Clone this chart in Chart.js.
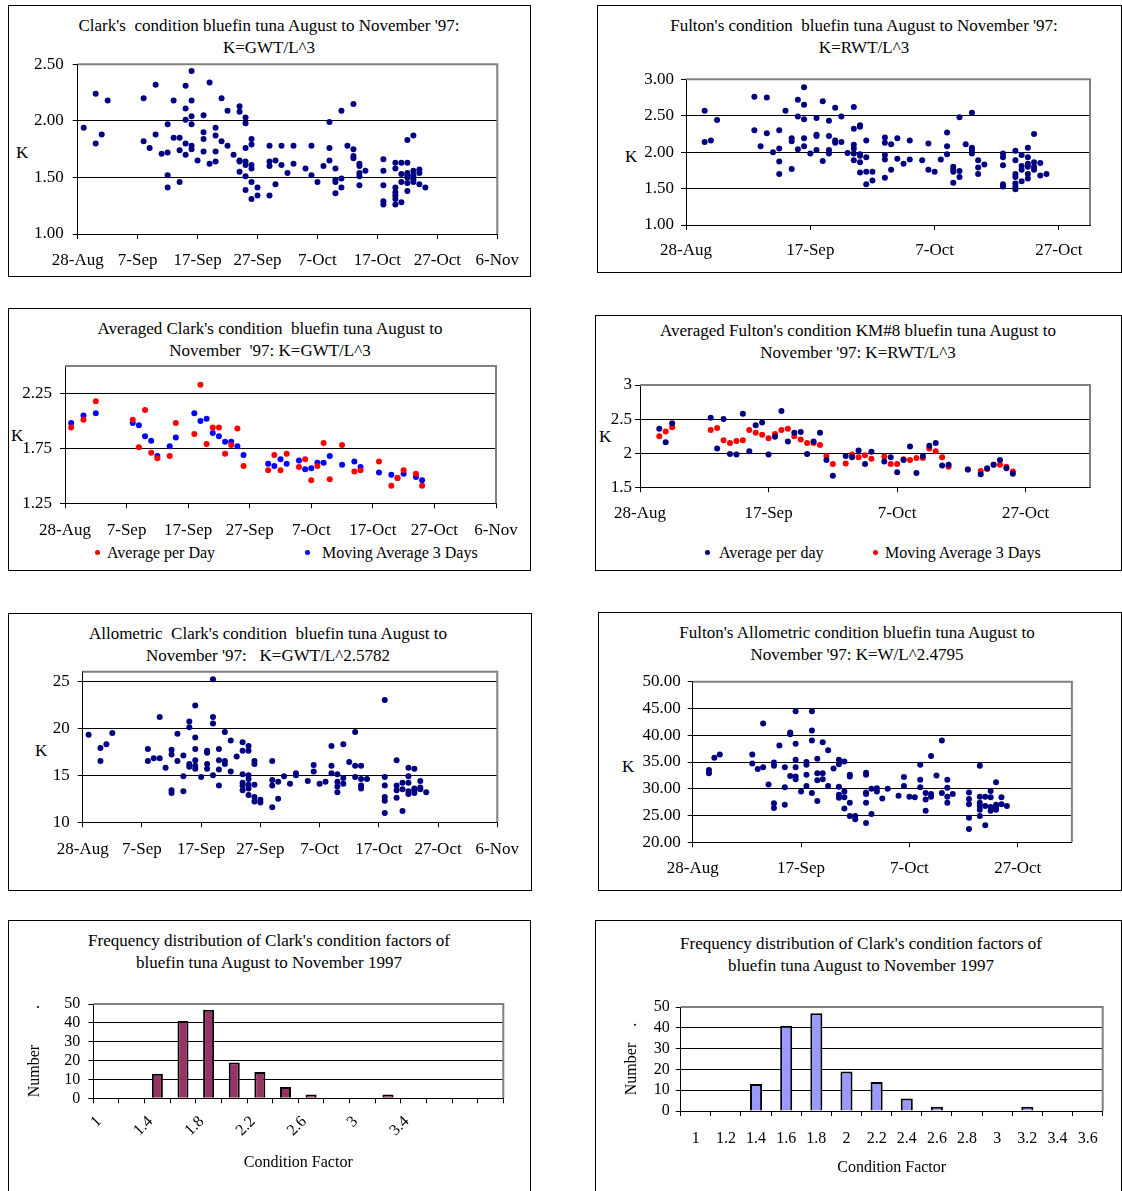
<!DOCTYPE html>
<html>
<head>
<meta charset="utf-8">
<script src="https://cdn.jsdelivr.net/npm/chart.js@4.4.3/dist/chart.umd.min.js"></script>
<style>
  body { margin: 0; background: #fff; }
  #page { position: relative; width: 1122px; height: 1191px; overflow: hidden;
          font-family: 'Liberation Serif', 'Times New Roman', serif; color: #000; }
  .box { position: absolute; border: 1px solid #000; box-sizing: border-box; pointer-events: none; z-index: 2; }
  canvas { position: absolute; }
  .t { position: absolute; width: 600px; text-align: center; font-size: 17px; line-height: 22px; white-space: pre; }
  .k { position: absolute; font-size: 17px; line-height: 20px; }
  .lg { position: absolute; font-size: 16px; line-height: 20px; white-space: pre; }
  .dot { position: absolute; width: 5px; height: 5px; border-radius: 50%; }
</style>
</head>
<body>
<div id="page">
  <div class="t" style="left:-31px;top:15px">Clark's  condition bluefin tuna August to November '97:
K=GWT/L^3</div>
  <div class="t" style="left:564px;top:15px">Fulton's condition  bluefin tuna August to November '97:
K=RWT/L^3</div>
  <div class="t" style="left:-30px;top:318px">Averaged Clark's condition  bluefin tuna August to
November  '97: K=GWT/L^3</div>
  <div class="t" style="left:558px;top:320px">Averaged Fulton's condition KM#8 bluefin tuna August to
November '97: K=RWT/L^3</div>
  <div class="t" style="left:-32px;top:623px">Allometric  Clark's condition  bluefin tuna August to
November '97:   K=GWT/L^2.5782</div>
  <div class="t" style="left:557px;top:622px">Fulton's Allometric condition bluefin tuna August to
November '97: K=W/L^2.4795</div>
  <div class="t" style="left:-31px;top:930px">Frequency distribution of Clark's condition factors of
bluefin tuna August to November 1997</div>
  <div class="t" style="left:561px;top:933px">Frequency distribution of Clark's condition factors of
bluefin tuna August to November 1997</div>

  <div class="k" style="left:16px;top:143px">K</div>
  <div class="k" style="left:625px;top:147px">K</div>
  <div class="k" style="left:11px;top:426px">K</div>
  <div class="k" style="left:599px;top:427px">K</div>
  <div class="k" style="left:35px;top:741px">K</div>
  <div class="k" style="left:622px;top:757px">K</div>

  <div class="dot" style="left:95px;top:550px;background:#ff0000"></div>
  <div class="lg" style="left:107px;top:543px">Average per Day</div>
  <div class="dot" style="left:305px;top:550px;background:#0000ff"></div>
  <div class="lg" style="left:322px;top:543px">Moving Average 3 Days</div>
  <div class="dot" style="left:705px;top:550px;background:#000080"></div>
  <div class="lg" style="left:719px;top:543px">Average per day</div>
  <div class="dot" style="left:873px;top:550px;background:#ff0000"></div>
  <div class="lg" style="left:885px;top:543px">Moving Average 3 Days</div>
</div>
<script>
// days counted from 28-Aug-97
const dayTicks10 = [0, 10, 20, 30, 40, 50, 60, 70];
const dayLabels10 = ['28-Aug', '7-Sep', '17-Sep', '27-Sep', '7-Oct', '17-Oct', '27-Oct', '6-Nov'];
const dayTicks20 = [0, 20, 40, 60];
const dayLabels20 = ['28-Aug', '17-Sep', '7-Oct', '27-Oct'];

// Clark's condition K=GWT/L^3, [day, K]
const clarkK = [
  [1,1.94],[3,2.24],[3,1.80],[4,1.88],[5,2.18],
  [11,2.20],[11,1.82],[12,1.76],[13,2.32],[13,1.88],[14,1.71],
  [15,1.97],[15,1.72],[15,1.52],[15,1.41],[16,2.18],[16,1.85],[17,1.85],[17,1.74],[17,1.46],
  [18,2.31],[18,2.11],[18,2.01],[18,1.80],[18,1.70],
  [19,2.44],[19,2.18],[19,2.04],[19,1.97],[19,1.78],[19,1.75],
  [20,1.65],[21,2.05],[21,1.90],[21,1.84],[21,1.73],
  [22,2.34],[22,1.62],[23,1.94],[23,1.87],[23,1.73],[23,1.64],
  [24,2.20],[24,1.82],[25,2.09],[25,1.78],[26,1.70],
  [27,2.13],[27,2.08],[27,1.65],[27,1.64],[27,1.55],
  [28,2.03],[28,1.98],[28,1.76],[28,1.64],[28,1.61],[28,1.51],[28,1.39],
  [29,1.84],[29,1.79],[29,1.61],[29,1.58],[29,1.46],[29,1.31],[30,1.41],[30,1.34],
  [32,1.78],[32,1.64],[32,1.60],[32,1.34],[33,1.65],[33,1.44],
  [34,1.78],[34,1.61],[35,1.54],[36,1.78],[36,1.62],
  [38,1.58],[39,1.78],[39,1.52],[40,1.46],[41,1.60],[42,1.99],[42,1.76],[42,1.65],
  [43,1.58],[43,1.48],[43,1.46],[43,1.36],[44,2.09],[44,1.49],[44,1.41],[45,1.78],
  [46,2.15],[46,1.75],[46,1.69],[46,1.67],
  [47,1.62],[47,1.60],[47,1.54],[47,1.51],[47,1.43],[48,1.56],
  [51,1.66],[51,1.56],[51,1.43],[51,1.29],[51,1.26],
  [53,1.63],[53,1.58],[53,1.41],[53,1.37],[53,1.34],[53,1.31],[53,1.26],
  [54,1.63],[54,1.53],[54,1.46],[54,1.28],
  [55,1.83],[55,1.63],[55,1.54],[55,1.52],[55,1.50],[55,1.45],[55,1.38],
  [56,1.87],[56,1.56],[56,1.52],[56,1.50],[56,1.48],[56,1.46],
  [57,1.57],[57,1.54],[57,1.44],[58,1.41]
];

// Fulton's condition K=RWT/L^3
const fultonK = [
  [3,2.57],[3,2.14],[4,2.16],[5,2.44],
  [11,2.76],[11,2.30],[12,2.08],[13,2.75],[13,2.26],[14,2.00],
  [15,2.30],[15,2.05],[15,1.87],[15,1.70],[16,2.57],
  [17,2.19],[17,2.15],[17,1.77],[18,2.72],[18,2.49],[18,2.04],
  [19,2.89],[19,2.65],[19,2.45],[19,2.19],[19,2.08],[20,1.98],
  [21,2.47],[21,2.24],[21,2.22],[21,2.03],[22,2.70],[22,1.88],
  [23,2.43],[23,2.22],[23,2.03],[23,1.98],[24,2.61],[24,2.16],[24,2.13],
  [25,2.49],[25,2.14],[26,1.99],
  [27,2.62],[27,2.32],[27,2.10],[27,2.05],[27,1.98],[27,1.89],
  [28,2.37],[28,2.35],[28,1.97],[28,1.95],[28,1.86],[28,1.72],
  [29,2.16],[29,1.93],[29,1.73],[29,1.56],[30,1.73],[30,1.61],
  [32,2.20],[32,2.13],[32,1.96],[32,1.90],[32,1.65],[33,2.11],[33,1.76],
  [34,2.19],[34,1.91],[35,1.84],[36,2.16],[36,1.90],[38,1.89],
  [39,2.12],[39,1.76],[40,1.73],[41,1.90],
  [42,2.27],[42,2.08],[42,1.97],[43,1.80],[43,1.76],[43,1.73],[43,1.58],
  [44,2.48],[44,1.74],[44,1.66],[45,2.11],
  [46,2.54],[46,2.06],[46,2.03],[46,1.98],[47,1.89],[47,1.79],[47,1.70],[48,1.83],
  [51,1.98],[51,1.93],[51,1.82],[51,1.56],[51,1.53],
  [53,2.02],[53,1.89],[53,1.70],[53,1.66],[53,1.57],[53,1.53],[53,1.49],
  [54,1.96],[54,1.81],[54,1.76],[54,1.60],
  [55,2.06],[55,1.93],[55,1.84],[55,1.80],[55,1.70],[55,1.64],
  [56,2.25],[56,1.86],[56,1.80],[56,1.76],[57,1.85],[57,1.68],[58,1.70]
];

// averaged Clark's
const clarkDayAvg = [
  [1,1.94],[3,2.01],[5,2.18],[11,2.01],[12,1.76],[13,2.10],[14,1.71],[15,1.66],[17,1.68],[18,1.98],
  [21,1.88],[22,2.33],[23,1.79],[24,1.94],[25,1.94],[26,1.70],[27,1.78],[28,1.93],[29,1.59],
  [33,1.55],[34,1.69],[35,1.55],[36,1.70],[38,1.58],[39,1.65],[40,1.46],[41,1.59],[42,1.80],[43,1.47],
  [45,1.78],[47,1.54],[48,1.55],[51,1.63],[53,1.41],[54,1.48],[55,1.55],[57,1.52],[58,1.41]
];
const clarkMov3 = [
  [1,1.98],[3,2.05],[5,2.07],[11,1.98],[12,1.96],[13,1.86],[14,1.82],[15,1.68],[17,1.77],[18,1.85],
  [21,2.07],[22,2.00],[23,2.02],[24,1.89],[25,1.86],[26,1.81],[27,1.81],[28,1.77],[29,1.69],
  [33,1.61],[34,1.59],[35,1.65],[36,1.61],[38,1.64],[39,1.56],[40,1.57],[41,1.62],[42,1.62],[43,1.68],
  [45,1.60],[47,1.63],[48,1.58],[51,1.53],[53,1.51],[54,1.48],[55,1.52],[57,1.49],[58,1.46]
];

// averaged Fulton's
const fultonDayAvg = [
  [3,2.36],[4,2.16],[5,2.44],[11,2.52],[12,2.07],[13,2.50],[14,1.99],[15,1.98],[16,2.58],[17,2.03],
  [18,2.41],[19,2.45],[20,1.98],[21,2.24],[22,2.62],[23,2.17],[24,2.30],[25,2.31],[26,1.99],[27,2.17],
  [28,2.30],[29,1.90],[30,1.67],[32,1.96],[33,1.94],[34,2.04],[35,1.84],[36,2.02],[38,1.88],[39,1.94],
  [40,1.72],[41,1.90],[42,2.10],[43,1.71],[44,1.96],[45,2.11],[46,2.15],[47,1.82],[48,1.83],
  [51,1.76],[53,1.69],[54,1.78],[55,1.83],[56,1.90],[57,1.78],[58,1.70]
];
const fultonMov3 = [
  [3,2.25],[4,2.32],[5,2.38],[11,2.34],[12,2.37],[13,2.19],[14,2.15],[15,2.18],[16,2.19],[17,2.34],
  [18,2.30],[19,2.27],[20,2.22],[21,2.28],[22,2.34],[23,2.36],[24,2.25],[25,2.20],[26,2.15],[27,2.15],
  [28,2.12],[29,1.96],[30,1.84],[32,1.85],[33,1.98],[34,1.94],[35,1.97],[36,1.92],[38,1.95],[39,1.84],
  [40,1.84],[41,1.91],[42,1.90],[43,1.93],[44,1.93],[45,2.07],[46,2.03],[47,1.94],[48,1.80],
  [51,1.76],[53,1.74],[54,1.77],[55,1.83],[56,1.83],[57,1.80],[58,1.73]
];

// allometric Clark's K=GWT/L^2.5782
const clarkAllo = [
  [1,19.3],[3,17.9],[3,16.5],[4,18.3],[5,19.5],
  [11,17.8],[11,16.5],[12,16.8],[13,21.2],[13,16.8],[14,15.8],
  [15,17.7],[15,17.2],[15,13.4],[15,13.1],[16,19.4],[16,16.5],
  [17,17.1],[17,14.9],[17,13.3],[18,20.7],[18,20.1],[18,16.2],[18,15.9],
  [19,22.4],[19,19.0],[19,17.8],[19,16.6],[19,16.0],[19,15.7],[20,14.8],
  [21,17.6],[21,17.4],[21,16.2],[21,15.7],[22,25.2],[22,21.2],[22,20.5],[22,15.0],
  [23,17.8],[23,16.6],[23,15.6],[23,13.9],[24,19.6],[24,16.5],[24,16.2],
  [25,18.7],[25,15.4],[26,17.0],
  [27,18.5],[27,17.6],[27,15.1],[27,14.2],[27,13.9],[27,13.4],
  [28,18.1],[28,17.6],[28,15.0],[28,14.6],[28,14.0],[28,13.6],[28,12.9],
  [29,16.5],[29,16.2],[29,14.0],[29,12.7],[29,12.2],[30,12.4],[30,12.1],
  [32,16.5],[32,14.5],[32,13.9],[32,11.6],[33,14.3],[33,12.5],[34,14.9],[35,14.1],[36,15.2],[36,15.0],
  [38,14.4],[39,16.1],[39,15.4],[40,14.1],[41,14.3],[42,18.1],[42,16.0],[42,15.2],
  [43,15.1],[43,14.3],[43,13.8],[43,13.2],[44,18.3],[44,14.7],[44,14.1],[45,16.4],
  [46,19.6],[46,16.0],[46,14.8],[47,16.0],[47,14.6],[47,13.9],[47,13.6],[48,14.6],
  [51,23.0],[51,14.8],[51,13.9],[51,12.7],[51,12.3],[51,11.0],
  [53,16.6],[53,13.9],[53,13.4],[53,12.6],[54,14.2],[54,13.5],[54,11.2],
  [55,15.8],[55,14.9],[55,14.2],[55,13.3],[55,13.0],[56,15.7],[56,13.6],[56,13.4],[56,13.1],
  [57,14.4],[57,13.7],[57,13.5],[58,13.2]
];

// Fulton's allometric K=W/L^2.4795
const fultonAllo = [
  [3,33.5],[3,32.9],[4,35.8],[5,36.4],
  [11,36.4],[11,34.7],[12,33.7],[13,42.2],[13,34.0],[14,30.8],
  [15,34.9],[15,34.3],[15,27.3],[15,26.4],[16,38.1],[17,34.0],[17,30.3],[17,27.0],
  [18,40.5],[18,40.2],[18,32.4],[19,44.5],[19,38.4],[19,35.4],[19,34.0],[19,32.3],[19,31.8],
  [20,29.5],[21,35.0],[21,34.5],[21,32.6],[21,30.5],[22,44.5],[22,40.9],[22,39.0],[22,29.2],
  [23,35.6],[23,32.9],[23,31.6],[23,27.7],[24,38.7],[24,32.9],[24,31.8],[25,37.2],[25,30.5],[26,33.8],
  [27,35.4],[27,34.6],[27,30.4],[27,28.9],[27,28.3],[28,35.1],[28,29.5],[28,28.4],[28,26.3],
  [29,32.6],[29,32.3],[29,27.4],[29,24.9],[30,24.9],[30,24.3],
  [32,33.0],[32,32.6],[32,29.3],[32,29.0],[32,27.4],[32,23.6],[33,30.0],[33,25.3],[34,30.1],[34,29.5],
  [35,28.2],[36,30.0],[38,28.7],[39,32.2],[39,30.5],[40,28.5],[41,28.4],
  [42,34.5],[42,31.7],[42,30.3],[43,29.2],[43,28.0],[43,25.9],
  [44,36.1],[44,29.0],[44,28.5],[45,32.5],[46,39.0],[46,29.2],[47,31.7],[47,30.2],[47,28.5],[47,27.4],[48,29.0],
  [51,29.3],[51,28.1],[51,27.1],[51,24.6],[51,22.5],
  [53,34.3],[53,28.5],[53,27.4],[53,26.8],[53,26.1],[53,24.9],[54,28.5],[54,26.8],[54,23.2],
  [55,29.6],[55,28.4],[55,26.6],[55,25.9],[56,31.2],[56,27.0],[56,26.5],[56,26.1],[57,28.4],[57,27.1],[58,26.8]
];

// frequency distributions
const binLabels7 = ['1','1.2','1.4','1.6','1.8','2','2.2','2.4','2.6','2.8','3','3.2','3.4','3.6','',''];
const freq7 = [0, 0, 13, 41, 47, 19, 14, 6, 2, 0, 0, 2, 0, 0, 0, 0];
const binLabels8 = ['1','1.2','1.4','1.6','1.8','2','2.2','2.4','2.6','2.8','3','3.2','3.4','3.6'];
const freq8 = [0, 0, 13, 41, 47, 19, 14, 6, 2, 0, 0, 2, 0, 0];
const countTicks = [0, 10, 20, 30, 40, 50];

const NAVY = '#000080';
const FONT = "'Liberation Serif', 'Times New Roman', serif";
Chart.defaults.font.family = FONT;
Chart.defaults.color = '#000';

// grey plot-area border on top and right, like the spreadsheet original
const frame = {
  id: 'frame',
  beforeDatasetsDraw(chart) {
    const {ctx, chartArea: a} = chart;
    ctx.save();
    ctx.strokeStyle = '#808080';
    ctx.lineWidth = 2;
    ctx.beginPath();
    ctx.moveTo(a.left, a.top);
    ctx.lineTo(a.right, a.top);
    ctx.lineTo(a.right, a.bottom);
    ctx.stroke();
    ctx.restore();
  }
};
Chart.register(frame);

const page = document.getElementById('page');

function panel(box, area, height) {
  const b = document.createElement('div');
  b.className = 'box';
  Object.assign(b.style, {left: box.x + 'px', top: box.y + 'px', width: box.w + 'px', height: box.h + 'px'});
  page.appendChild(b);
  const cx = box.x + 1, cy = box.y + 1, cw = box.w - 2, ch = height || box.h - 2;
  const c = document.createElement('canvas');
  c.width = cw; c.height = ch;
  Object.assign(c.style, {left: cx + 'px', top: cy + 'px', width: cw + 'px', height: ch + 'px'});
  page.appendChild(c);
  return {
    canvas: c,
    pad: {left: 0, top: area.T - cy, right: cx + cw - area.R, bottom: 0},
    yW: area.L - cx,
    xH: ch - (area.B - cy)
  };
}

function scatter(p) {
  const g = panel(p.box, p.area, p.height);
  new Chart(g.canvas, {
    type: 'scatter',
    data: {
      datasets: p.series.map(s => ({
        data: s.pts.map(([x, y]) => ({x, y})),
        backgroundColor: s.color,
        pointRadius: 3,
        borderWidth: 0
      }))
    },
    options: {
      responsive: false, animation: false, events: [], devicePixelRatio: 1,
      layout: {padding: g.pad},
      plugins: {legend: {display: false}, tooltip: {enabled: false}},
      scales: {
        x: {
          type: 'linear', min: 0, max: p.xmax,
          afterBuildTicks: s => { s.ticks = p.xt.map(v => ({value: v})) },
          afterFit: s => { s.height = g.xH },
          ticks: {callback: v => p.xl[p.xt.indexOf(v)], font: {size: 17}, padding: p.xpad, maxRotation: 0, autoSkip: false},
          grid: {drawOnChartArea: false, color: '#000', tickLength: 5},
          border: {color: '#000'}
        },
        y: {
          min: p.ymin, max: p.ymax,
          afterBuildTicks: s => { s.ticks = p.yt.map(v => ({value: v})) },
          afterFit: s => { s.width = g.yW },
          ticks: {callback: p.fmt, font: {size: 17}, padding: p.ypad, autoSkip: false},
          grid: {color: '#000', tickLength: 5},
          border: {color: '#000'}
        }
      }
    }
  });
}

function histogram(p) {
  const g = panel(p.box, p.area, p.height);
  new Chart(g.canvas, {
    type: 'bar',
    data: {
      labels: p.labels,
      datasets: [{data: p.counts, backgroundColor: p.color, borderColor: '#000', borderWidth: 2,
                  barPercentage: p.bar, categoryPercentage: 1}]
    },
    options: {
      responsive: false, animation: false, events: [], devicePixelRatio: 1,
      layout: {padding: g.pad},
      plugins: {legend: {display: false}, tooltip: {enabled: false}},
      scales: {
        x: {
          afterFit: s => { s.height = g.xH },
          ticks: {autoSkip: false, minRotation: p.rot, maxRotation: p.rot, font: {size: 16}, padding: p.xpad,
                  labelOffset: p.xshift, callback: (v, i) => (p.every2 && i % 2) ? '' : p.labels[i]},
          grid: {drawOnChartArea: false, color: '#000', tickLength: 5, offset: true},
          border: {color: '#000'},
          title: {display: true, text: 'Condition Factor', font: {size: 16}, padding: {top: 0, bottom: p.xtitle}}
        },
        y: {
          min: 0, max: 50,
          afterBuildTicks: s => { s.ticks = countTicks.map(v => ({value: v})) },
          afterFit: s => { s.width = g.yW },
          ticks: {font: {size: 16}, padding: p.ypad, autoSkip: false},
          grid: {color: '#000', tickLength: 5},
          border: {color: '#000'},
          title: {display: true, text: p.ytext, font: {size: 16}, padding: {top: p.ytitle, bottom: 0}}
        }
      }
    }
  });
}

const two = v => v.toFixed(2);

scatter({
  box: {x: 8, y: 5, w: 523, h: 272}, area: {L: 77.7, T: 64.3, R: 501, B: 234},
  series: [{pts: clarkK, color: NAVY}],
  xt: dayTicks10, xl: dayLabels10, xmax: 70, yt: [1, 1.5, 2, 2.5], ymin: 1, ymax: 2.5,
  fmt: two, xpad: 11, ypad: 9
});
scatter({
  box: {x: 597, y: 5, w: 525, h: 268}, area: {L: 686, T: 79.3, R: 1090, B: 225},
  series: [{pts: fultonK, color: NAVY}],
  xt: dayTicks20, xl: dayLabels20, xmax: 65, yt: [1, 1.5, 2, 2.5, 3], ymin: 1, ymax: 3,
  fmt: two, xpad: 10, ypad: 7
});
scatter({
  box: {x: 8, y: 308, w: 523, h: 263}, area: {L: 65, T: 366, R: 496, B: 503.3},
  series: [{pts: clarkDayAvg, color: '#ff0000'}, {pts: clarkMov3, color: '#0000ff'}],
  xt: dayTicks10, xl: dayLabels10, xmax: 70, yt: [1.25, 1.75, 2.25], ymin: 1.25, ymax: 2.5,
  fmt: two, xpad: 12, ypad: 8
});
scatter({
  box: {x: 595, y: 315, w: 527, h: 256}, area: {L: 640, T: 385, R: 1090, B: 487.3},
  series: [{pts: fultonDayAvg, color: NAVY}, {pts: fultonMov3, color: '#ff0000'}],
  xt: dayTicks20, xl: dayLabels20, xmax: 70, yt: [1.5, 2, 2.5, 3], ymin: 1.5, ymax: 3,
  fmt: v => String(v), xpad: 11, ypad: 3
});
scatter({
  box: {x: 8, y: 613, w: 524, h: 278}, area: {L: 82.7, T: 671.7, R: 501.5, B: 822.3},
  series: [{pts: clarkAllo, color: NAVY}],
  xt: dayTicks10, xl: dayLabels10, xmax: 70, yt: [10, 15, 20, 25], ymin: 10, ymax: 26,
  fmt: v => String(v), xpad: 12, ypad: 8
});
scatter({
  box: {x: 598, y: 612, w: 524, h: 279}, area: {L: 692.7, T: 681.7, R: 1071.9, B: 842.3},
  series: [{pts: fultonAllo, color: NAVY}],
  xt: dayTicks20, xl: dayLabels20, xmax: 70, yt: [20, 25, 30, 35, 40, 45, 50], ymin: 20, ymax: 50,
  fmt: two, xpad: 11, ypad: 7
});
histogram({
  box: {x: 8, y: 920, w: 523, h: 280}, area: {L: 93.3, T: 1004, R: 503.3, B: 1098.3}, height: 270,
  labels: binLabels7, counts: freq7, color: '#993366', bar: 0.43, rot: 45, every2: true,
  xpad: 9, xshift: -7, ypad: 8, xtitle: 18.4, ytitle: 16.4, ytext: 'Number         .'
});
histogram({
  box: {x: 595, y: 920, w: 527, h: 280}, area: {L: 680.7, T: 1007, R: 1102.7, B: 1111}, height: 270,
  labels: binLabels8, counts: freq8, color: '#9999ff', bar: 0.4, rot: 0, every2: false,
  xpad: 13, xshift: 0, ypad: 6, xtitle: 13.7, ytitle: 25.9, ytext: 'Number    .'
});
</script>
</body>
</html>
